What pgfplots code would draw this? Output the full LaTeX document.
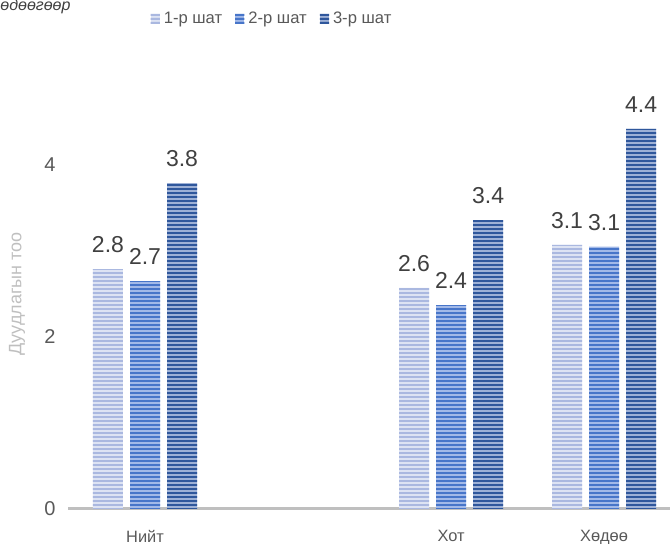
\documentclass[border=0pt]{standalone}
\usepackage{fontspec}
\setmainfont{Liberation Sans}
\usepackage{pgfplots}
\pgfplotsset{compat=1.18}
\usetikzlibrary{patterns.meta}

\definecolor{oneA}{HTML}{AAB8E0}
\definecolor{oneB}{HTML}{DDE3F3}
\definecolor{twoA}{HTML}{4775C9}
\definecolor{twoB}{HTML}{A2B9E8}
\definecolor{threeA}{HTML}{2F579C}
\definecolor{threeB}{HTML}{9EB1D6}
\definecolor{txt}{HTML}{595959}
\definecolor{lbl}{HTML}{404040}
\definecolor{axgray}{HTML}{BFBFBF}

% wide tile so that no vertical seams show inside the bars
\tikzdeclarepattern{
  name=hstripes,
  type=uncolored,
  bounding box={(0,0) and (400pt,2.15pt)},
  tile size={(400pt,2.15pt)},
  code={\fill (-1pt,0pt) rectangle (401pt,1.15pt);}
}

\pgfplotsset{
  stripe/.style 2 args={fill=#2, draw=none,
    postaction={pattern=hstripes, pattern color=#1}},
}

\begin{document}
\begin{tikzpicture}
\useasboundingbox (0,0) rectangle (335pt,272pt);
\node[anchor=base west, inner sep=0, font=\fontsize{8}{9}\selectfont\itshape, text=lbl] at (0pt,266.5pt) {өдөөгөөр};

\begin{axis}[
  at={(34.25pt,17.5pt)}, anchor=south west,
  scale only axis, width=300.75pt, height=215pt,
  ybar,
  xmin=-0.5, xmax=3.431, ymin=0, ymax=5,
  bar width=0.196,
  separate axis lines,
  axis x line*=bottom, axis y line*=left,
  x axis line style={draw=axgray, line width=1.5pt, -},
  y axis line style={draw=none},
  major tick length=0pt,
  xtick={0,2,3}, xticklabels={Нийт,Хот,Хөдөө},
  ytick={0,2,4},
  /pgf/number format/assume math mode=true,
  tick label style={text=txt},
  xticklabel style={font=\fontsize{8.2}{9}\selectfont, yshift=-7pt},
  yticklabel style={font=\fontsize{10}{11}\selectfont, xshift=-3pt},
  ylabel={Дуудлагын тоо},
  every axis y label/.style={at={([xshift=-25.75pt]axis description cs:0,0.5)}, rotate=90, anchor=center,
    font=\fontsize{9}{10}\selectfont, text=axgray},
  nodes near coords,
  point meta=explicit symbolic,
  nodes near coords style={font=\fontsize{11.5}{12}\selectfont, text=lbl, inner sep=0pt, anchor=south, yshift=8pt},
  legend image code/.code={\path[#1, draw=none] (0pt,-2.7pt) rectangle (4.6pt,2.7pt);},
  legend style={at={(axis description cs:0.34,1.1395)}, anchor=center, draw=none,
    legend columns=-1, font=\fontsize{8.3}{10}\selectfont, text=txt,
    /tikz/every even column/.append style={column sep=4.5pt}},
]
\addplot[stripe={oneA}{oneB}, bar shift=-0.242] coordinates {(0,2.79) [2.8] (2,2.57) [2.6] (3,3.07) [3.1]};
\addplot[stripe={twoA}{twoB}, bar shift=0] coordinates {(0,2.65) [2.7] (2,2.37) [2.4] (3,3.05) [3.1]};
\addplot[stripe={threeA}{threeB}, bar shift=0.242] coordinates {(0,3.79) [3.8] (2,3.36) [3.4] (3,4.42) [4.4]};
\legend{1-р шат, 2-р шат, 3-р шат}
\end{axis}
\end{tikzpicture}
\end{document}
